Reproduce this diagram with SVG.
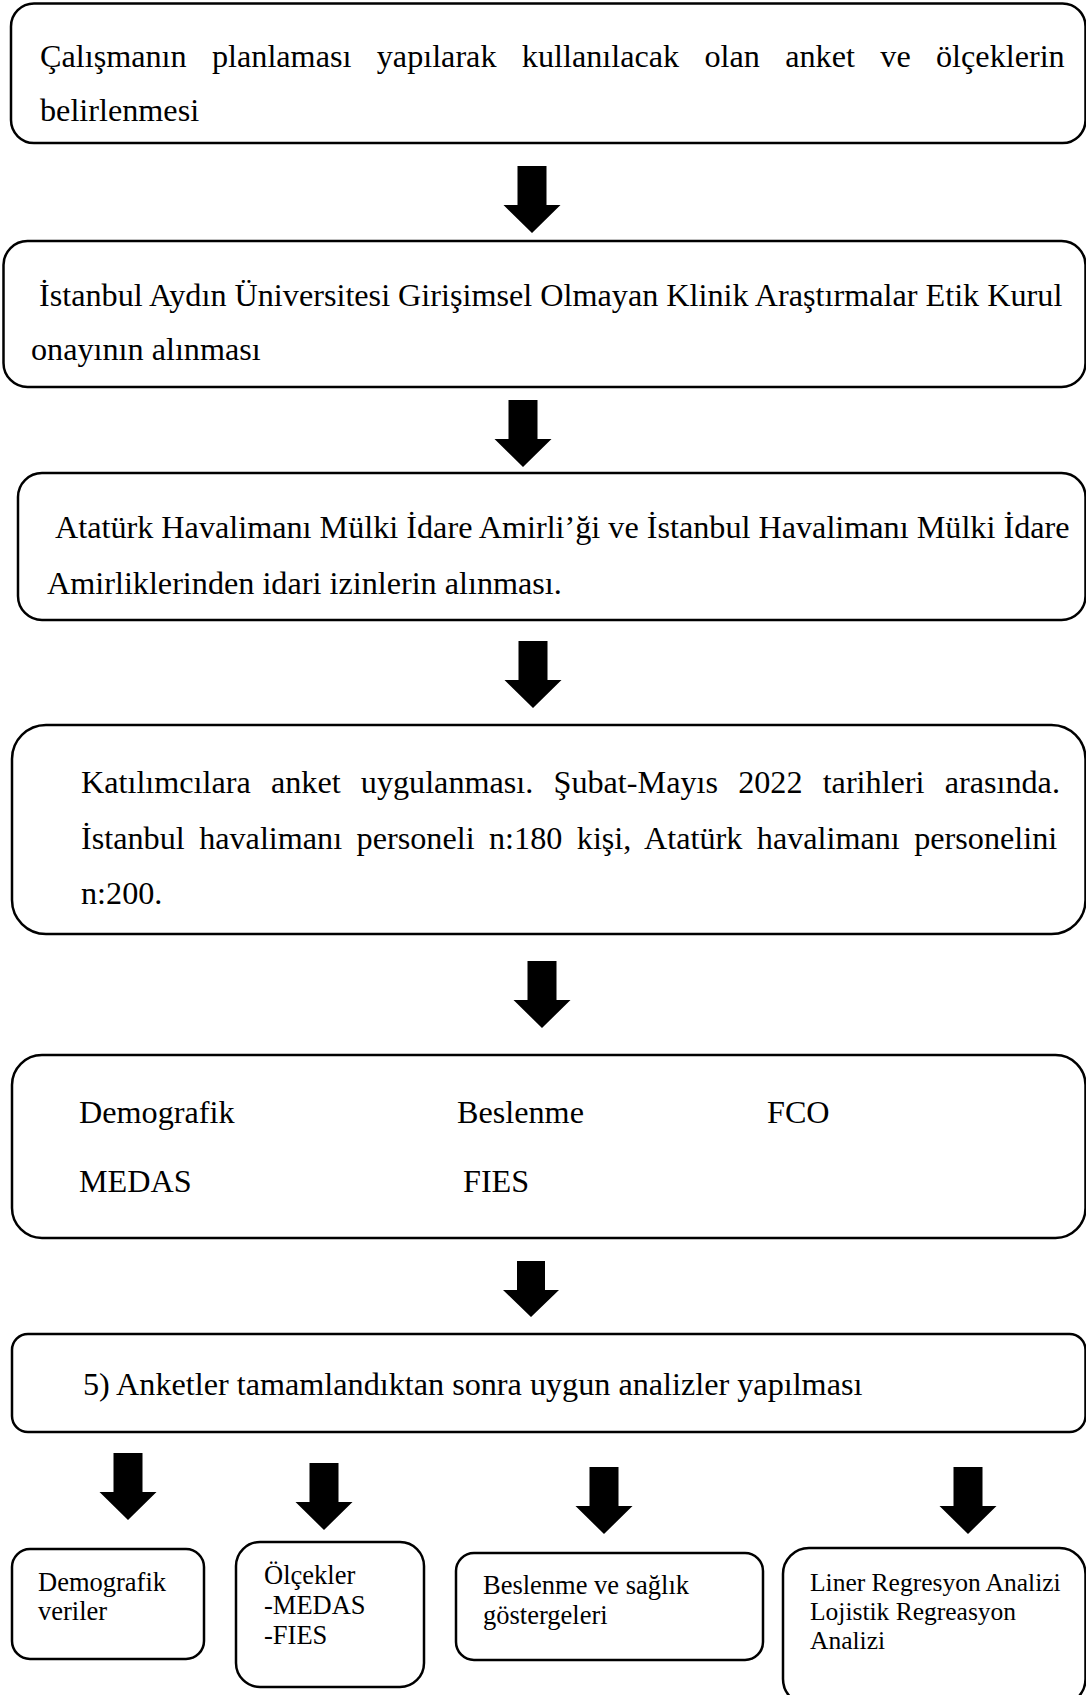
<svg xmlns="http://www.w3.org/2000/svg" xmlns:xlink="http://www.w3.org/1999/xlink" width="1086" height="1695" viewBox="0 0 1086 1695">
<style>
.box{fill:#fff;stroke:#000;stroke-width:2.5}
.t{font-family:"Liberation Serif","Times New Roman",serif;font-size:32.2px;fill:#000}
.s{font-family:"Liberation Serif","Times New Roman",serif;font-size:26.5px;fill:#000}
.arr{fill:#000}
</style>
<defs>
<path id="arrow" d="M-14.5,0 H14.5 V39 H28.5 L0,67 L-28.5,39 H-14.5 Z"/>
</defs>
<rect width="1086" height="1695" fill="#fff"/>
<g id="connectors" class="arr">
<use xlink:href="#arrow" href="#arrow" x="532" y="166"/>
<use xlink:href="#arrow" href="#arrow" x="523" y="400"/>
<use xlink:href="#arrow" href="#arrow" x="533" y="641"/>
<use xlink:href="#arrow" href="#arrow" x="542" y="961"/>
<path d="M517,1261 H545 V1290 H559 L531,1317 L503,1290 H517 Z"/>
<use xlink:href="#arrow" href="#arrow" x="128" y="1453"/>
<use xlink:href="#arrow" href="#arrow" x="324" y="1463"/>
<use xlink:href="#arrow" href="#arrow" x="604" y="1467"/>
<use xlink:href="#arrow" href="#arrow" x="968" y="1467"/>
</g>
<g id="node1">
<rect class="box" x="11" y="3.5" width="1074.5" height="139.5" rx="23" ry="23"/>
<text class="t" x="40" y="67" word-spacing="17.3">Çalışmanın planlaması yapılarak kullanılacak olan anket ve ölçeklerin</text>
<text class="t" x="40" y="121">belirlenmesi</text>
</g>
<g id="node2">
<rect class="box" x="3.5" y="241" width="1082" height="146" rx="24" ry="24"/>
<text class="t" x="39" y="306">İstanbul Aydın Üniversitesi Girişimsel Olmayan Klinik Araştırmalar Etik Kurul</text>
<text class="t" x="31" y="360">onayının alınması</text>
</g>
<g id="node3">
<rect class="box" x="18" y="473" width="1067.5" height="147" rx="24" ry="24"/>
<text class="t" x="55" y="538">Atatürk Havalimanı Mülki İdare Amirli’ği ve İstanbul Havalimanı Mülki İdare</text>
<text class="t" x="47" y="594">Amirliklerinden idari izinlerin alınması.</text>
</g>
<g id="node4">
<rect class="box" x="12" y="725" width="1073.5" height="209" rx="34" ry="34"/>
<text class="t" x="81" y="793" word-spacing="12.1">Katılımcılara anket uygulanması. Şubat-Mayıs 2022 tarihleri arasında.</text>
<text class="t" x="81" y="849" word-spacing="6.4">İstanbul havalimanı personeli n:180 kişi, Atatürk havalimanı personelini</text>
<text class="t" x="81" y="904">n:200.</text>
</g>
<g id="node5">
<rect class="box" x="12" y="1055" width="1073.5" height="183" rx="30" ry="30"/>
<text class="t" x="79" y="1123">Demografik</text>
<text class="t" x="457" y="1123">Beslenme</text>
<text class="t" x="767" y="1123">FCO</text>
<text class="t" x="79" y="1192">MEDAS</text>
<text class="t" x="463" y="1192">FIES</text>
</g>
<g id="node6">
<rect class="box" x="12" y="1334" width="1073.5" height="98" rx="16" ry="16"/>
<text class="t" x="83" y="1395">5) Anketler tamamlandıktan sonra uygun analizler yapılması</text>
</g>
<g id="node7">
<rect class="box" x="12" y="1549" width="192" height="110" rx="18" ry="18"/>
<text class="s" x="38" y="1591">Demografik</text>
<text class="s" x="38" y="1620">veriler</text>
</g>
<g id="node8">
<rect class="box" x="236" y="1542" width="188" height="145" rx="24" ry="24"/>
<text class="s" x="264" y="1584">Ölçekler</text>
<text class="s" x="264" y="1614">-MEDAS</text>
<text class="s" x="264" y="1644">-FIES</text>
</g>
<g id="node9">
<rect class="box" x="456" y="1553" width="307" height="107" rx="18" ry="18"/>
<text class="s" x="483" y="1594">Beslenme ve sağlık</text>
<text class="s" x="483" y="1624">göstergeleri</text>
</g>
<g id="node10">
<rect class="box" x="783" y="1548" width="302.5" height="157" rx="26" ry="26"/>
<text class="s" x="810" y="1591" style="font-size:25.5px">Liner Regresyon Analizi</text>
<text class="s" x="810" y="1620" style="font-size:25.5px">Lojistik Regreasyon</text>
<text class="s" x="810" y="1649" style="font-size:25.5px">Analizi</text>
</g>
</svg>
